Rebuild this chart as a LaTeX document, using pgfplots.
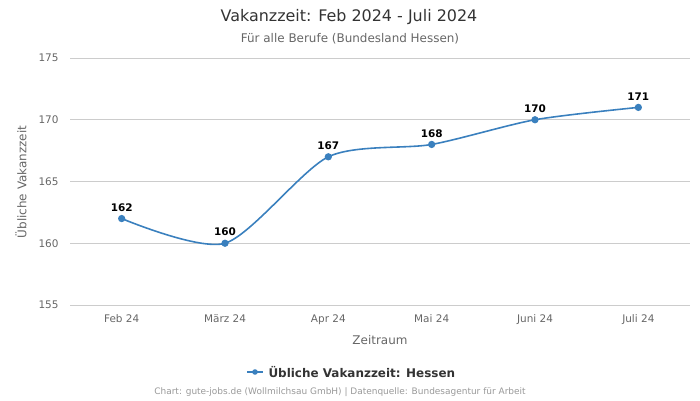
\documentclass[border=0pt]{standalone}
\usepackage{pgfplots}
\pgfplotsset{compat=1.18}
\usepackage{fontspec}
\setmainfont{DejaVu Sans}
\definecolor{line}{HTML}{3A80BE}
\definecolor{txt}{HTML}{333333}
\definecolor{tick}{HTML}{666666}
\begin{document}
\begin{tikzpicture}[x=1bp,y=1bp]
\path[use as bounding box] (0,0) rectangle (700,400);
\begin{axis}[
  at={(70bp,95bp)}, anchor=south west,
  scale only axis, width=620bp, height=247bp,
  xmin=-0.5, xmax=5.5, ymin=155, ymax=175,
  xtick={0,1,2,3,4,5},
  xticklabels={Feb 24,März 24,Apr 24,Mai 24,Juni 24,Juli 24},
  ytick={155,160,165,170,175},
  axis line style={draw=none},
  major tick length=0pt,
  ymajorgrids, grid style={draw=black!20, line width=0.6pt},
  tick label style={font=\fontsize{10.5}{12}\selectfont, text=tick},
  /pgf/number format/assume math mode=true,
  yticklabel style={xshift=-8bp},
  xticklabel style={yshift=-6bp},
  clip=false,
]
\addplot[line, line width=1.6pt, smooth, tension=0.45, mark=*, mark size=2.8pt,
  mark options={fill=line, draw=line},
  nodes near coords, every node near coord/.style={font=\bfseries\fontsize{10.5}{12}\selectfont, text=black, yshift=3bp}]
  coordinates {(0,162) (1,160) (2,167) (3,168) (4,170) (5,171)};
\end{axis}
\node[text=txt, font=\fontsize{16}{19}\selectfont] at (349,383) {Vakanzzeit: Feb 2024 - Juli 2024};
\node[text=tick, font=\fontsize{12}{14}\selectfont] at (350,361) {Für alle Berufe (Bundesland Hessen)};
\node[text=tick, font=\fontsize{12}{14}\selectfont] at (380,60) {Zeitraum};
\node[text=tick, font=\fontsize{12}{14}\selectfont, rotate=90] at (21,218) {Übliche Vakanzzeit};
\draw[line, line width=1.6pt] (247,28) -- (263,28);
\fill[line] (255,28) circle (2.8pt);
\node[anchor=west, text=txt, font=\bfseries\fontsize{12}{14}\selectfont] at (265,28) {Übliche Vakanzzeit: Hessen};
\node[text=black!40, font=\fontsize{9}{11}\selectfont] at (340,8) {Chart: gute-jobs.de (Wollmilchsau GmbH) | Datenquelle: Bundesagentur für Arbeit};
\end{tikzpicture}
\end{document}
